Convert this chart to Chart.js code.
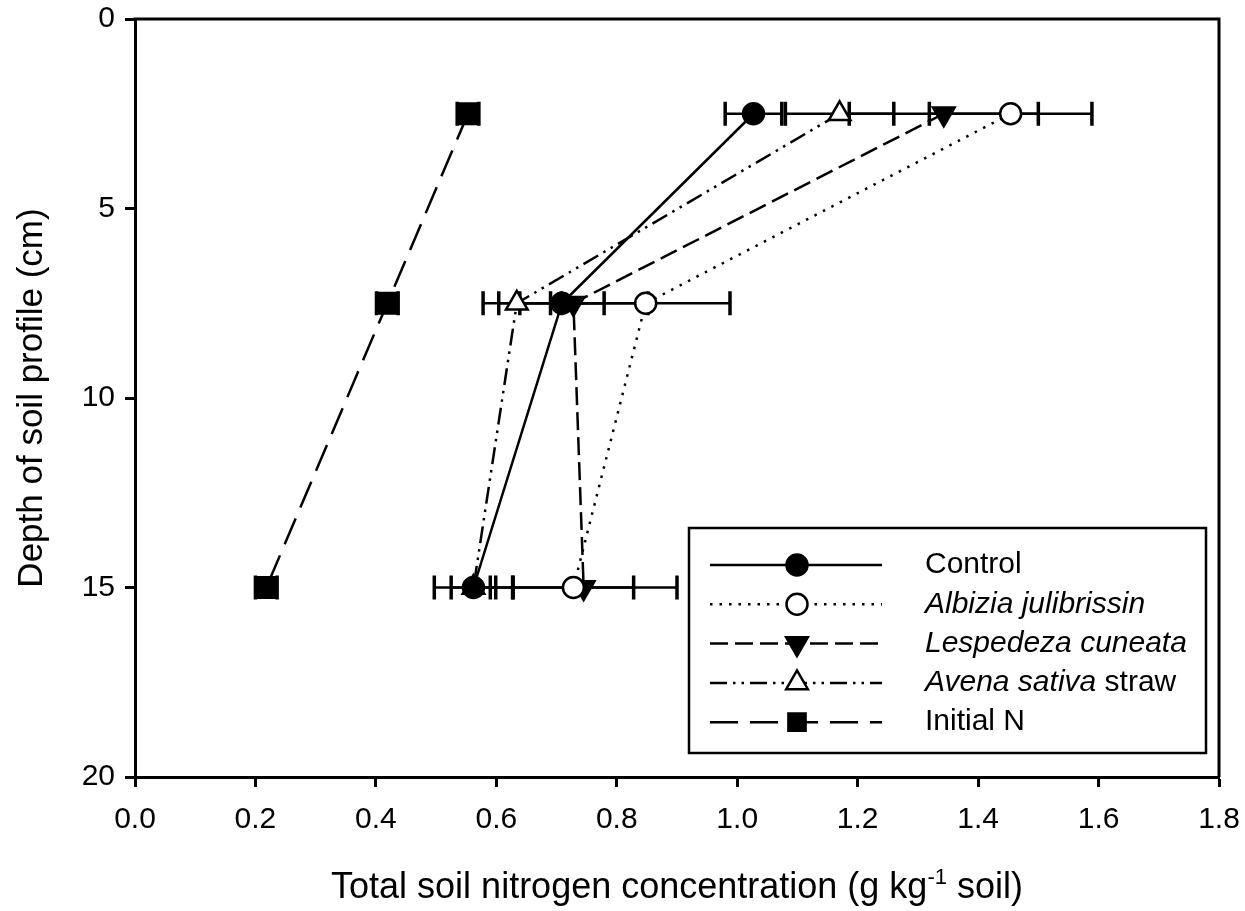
<!DOCTYPE html>
<html>
<head>
<meta charset="utf-8">
<script src="https://cdn.jsdelivr.net/npm/chart.js@4.4.0/dist/chart.umd.min.js"></script>
<style>
  html, body { margin: 0; padding: 0; background: #fff; }
  #wrap { width: 1245px; height: 911px; }
</style>
</head>
<body>
<div id="wrap"><canvas id="chart" width="1245" height="911"></canvas></div>
<script>
// depth of each sample layer (cm)
const depths = [2.5, 7.5, 15];

// total soil N (g/kg) per treatment, and the +/- error bar
const control = [1.027, 0.709, 0.562];
const controlErr = [0.047, 0.070, 0.065];
const albizia = [1.454, 0.848, 0.728];
const albiziaErr = [0.135, 0.140, 0.100];
const lespedeza = [1.343, 0.728, 0.745];
const lespedezaErr = [0.157, 0.124, 0.155];
const avena = [1.170, 0.634, 0.562];
const avenaErr = [0.090, 0.056, 0.037];
const initialN = [0.553, 0.419, 0.218];
const initialErr = [0.018, 0.018, 0.018];

const xTicks = [0, 0.2, 0.4, 0.6, 0.8, 1.0, 1.2, 1.4, 1.6, 1.8];
const yTicks = [0, 5, 10, 15, 20];

// legend text, pieces flagged italic or not
const legendLabels = [
    [["Control", false]],
    [["Albizia julibrissin", true]],
    [["Lespedeza cuneata", true]],
    [["Avena sativa", true], [" straw", false]],
    [["Initial N", false]]
];

const FONT = "'Liberation Sans', Arial, sans-serif";

function pts(vals) {
    return vals.map((v, i) => ({ x: v, y: depths[i] }));
}

function series(label, vals, errs, style) {
    return Object.assign({
        label: label,
        data: pts(vals),
        errors: errs,
        showLine: true,
        borderColor: "#000",
        pointBorderColor: "#000",
        borderWidth: 2.5,
        pointBorderWidth: 2.5,
        tension: 0
    }, style);
}

const datasets = [
    series("Control", control, controlErr, {
        borderDash: [], pointStyle: "circle", pointRadius: 10.5, pointBackgroundColor: "#000"
    }),
    series("Albizia julibrissin", albizia, albiziaErr, {
        borderDash: [2.5, 7], pointStyle: "circle", pointRadius: 10.5, pointBackgroundColor: "#fff"
    }),
    series("Lespedeza cuneata", lespedeza, lespedezaErr, {
        borderDash: [18, 7], pointStyle: "triangle", pointRotation: 180, pointRadius: 12.5, pointBackgroundColor: "#000"
    }),
    series("Avena sativa straw", avena, avenaErr, {
        borderDash: [17, 6, 2.5, 6, 2.5, 6], pointStyle: "triangle", pointRadius: 12.5, pointBackgroundColor: "#fff"
    }),
    series("Initial N", initialN, initialErr, {
        borderDash: [28, 12], pointStyle: "rect", pointRadius: 15, pointBorderWidth: 2, pointBackgroundColor: "#000"
    })
];

// horizontal error bars with caps
const errorBars = {
    id: "errorBars",
    beforeDatasetsDraw(chart) {
        const { ctx, scales: { x, y } } = chart;
        ctx.save();
        ctx.strokeStyle = "#000";
        chart.data.datasets.forEach(ds => {
            ds.data.forEach((p, i) => {
                const e = ds.errors[i];
                const x0 = x.getPixelForValue(p.x - e);
                const x1 = x.getPixelForValue(p.x + e);
                const py = y.getPixelForValue(p.y);
                ctx.lineWidth = 2.5;
                ctx.beginPath();
                ctx.moveTo(x0, py);
                ctx.lineTo(x1, py);
                ctx.stroke();
                ctx.lineWidth = 3.5;
                ctx.beginPath();
                ctx.moveTo(x0, py - 12);
                ctx.lineTo(x0, py + 12);
                ctx.moveTo(x1, py - 12);
                ctx.lineTo(x1, py + 12);
                ctx.stroke();
            });
        });
        ctx.restore();
    }
};

// frame, axis titles and the boxed legend
const decorations = {
    id: "decorations",
    afterDraw(chart) {
        const { ctx, chartArea: a } = chart;
        ctx.save();
        ctx.strokeStyle = "#000";
        ctx.fillStyle = "#000";

        // top and right edges of the frame
        ctx.lineWidth = 3;
        ctx.beginPath();
        ctx.moveTo(a.left - 1.5, a.top);
        ctx.lineTo(a.right, a.top);
        ctx.lineTo(a.right, a.bottom);
        ctx.stroke();

        // y title
        ctx.font = "35px " + FONT;
        ctx.textAlign = "center";
        ctx.textBaseline = "alphabetic";
        ctx.save();
        ctx.translate(42, (a.top + a.bottom) / 2);
        ctx.rotate(-Math.PI / 2);
        ctx.fillText("Depth of soil profile (cm)", 0, 0);
        ctx.restore();

        // x title with superscript -1
        const pieces = [
            ["Total soil nitrogen concentration (g kg", "36px", 0],
            ["-1", "22px", -14],
            [" soil)", "36px", 0]
        ];
        let total = 0;
        pieces.forEach(p => { ctx.font = p[1] + " " + FONT; total += ctx.measureText(p[0]).width; });
        let tx = (a.left + a.right) / 2 - total / 2;
        ctx.textAlign = "left";
        pieces.forEach(p => {
            ctx.font = p[1] + " " + FONT;
            ctx.fillText(p[0], tx, 898 + p[2]);
            tx += ctx.measureText(p[0]).width;
        });

        // legend box
        ctx.lineWidth = 2.5;
        ctx.strokeRect(689, 528, 517, 225);
        chart.data.datasets.forEach((ds, i) => {
            const ly = 565 + i * 39.3;
            ctx.save();
            ctx.lineWidth = ds.borderWidth;
            ctx.setLineDash(ds.borderDash);
            ctx.beginPath();
            ctx.moveTo(710, ly);
            ctx.lineTo(882, ly);
            ctx.stroke();
            ctx.restore();
            ctx.save();
            ctx.fillStyle = ds.pointBackgroundColor;
            ctx.strokeStyle = "#000";
            ctx.lineWidth = ds.pointBorderWidth;
            Chart.helpers.drawPoint(ctx, {
                pointStyle: ds.pointStyle,
                radius: ds.pointStyle === "rect" ? 12.5 : ds.pointRadius,
                rotation: ds.pointRotation || 0,
                borderWidth: ds.pointBorderWidth
            }, 797, ly);
            ctx.restore();

            let lx = 925;
            ctx.textBaseline = "middle";
            legendLabels[i].forEach(part => {
                ctx.font = (part[1] ? "italic " : "") + "30px " + FONT;
                ctx.fillText(part[0], lx, ly);
                lx += ctx.measureText(part[0]).width;
            });
        });
        ctx.restore();
    }
};

const axisCommon = {
    grid: { display: true, drawOnChartArea: false, drawTicks: true, tickLength: 10, tickWidth: 3, tickColor: "#000" },
    border: { display: true, color: "#000", width: 3 }
};

new Chart(document.getElementById("chart").getContext("2d"), {
    type: "scatter",
    data: { datasets: datasets },
    plugins: [errorBars, decorations],
    options: {
        responsive: false,
        animation: false,
        devicePixelRatio: 1,
        layout: { padding: { top: 19, right: 26, left: 0, bottom: 0 } },
        plugins: { legend: { display: false }, tooltip: { enabled: false } },
        scales: {
            x: Object.assign({}, axisCommon, {
                type: "linear",
                min: 0,
                max: 1.8,
                afterBuildTicks: s => { s.ticks = xTicks.map(v => ({ value: v })); },
                afterFit: s => { s.height = 134; s.paddingLeft = 0; s.paddingRight = 0; },
                ticks: {
                    padding: 15,
                    color: "#000",
                    font: { family: FONT, size: 30 },
                    callback: v => v.toFixed(1)
                }
            }),
            y: Object.assign({}, axisCommon, {
                type: "linear",
                reverse: true,
                min: 0,
                max: 20,
                afterBuildTicks: s => { s.ticks = yTicks.map(v => ({ value: v })); },
                afterFit: s => { s.width = 135; s.paddingTop = 0; s.paddingBottom = 0; },
                ticks: {
                    padding: 10,
                    color: "#000",
                    font: { family: FONT, size: 30 },
                    callback: v => String(v)
                }
            })
        }
    }
});
</script>
</body>
</html>
